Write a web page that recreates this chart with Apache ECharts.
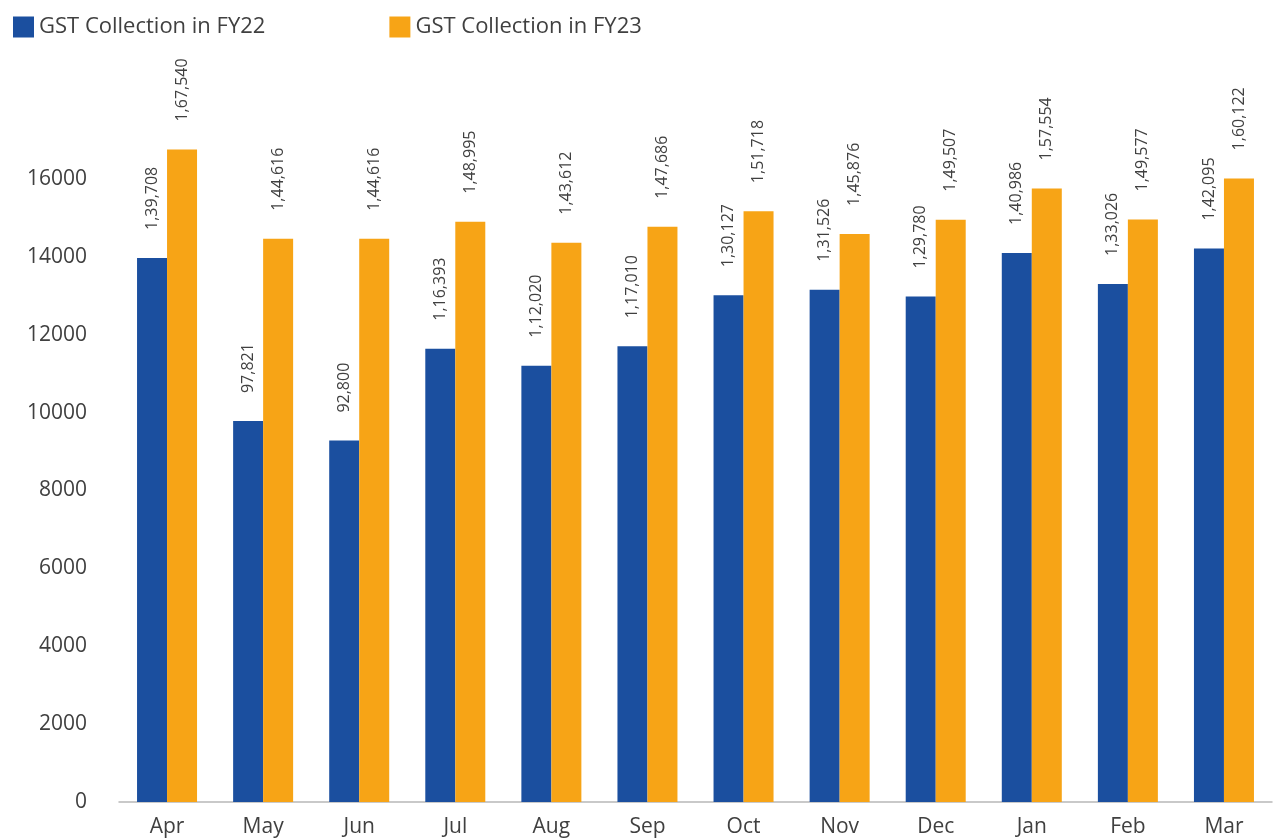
<!DOCTYPE html>
<html>
<head>
<meta charset="utf-8">
<script src="https://cdn.jsdelivr.net/npm/echarts@6/dist/echarts.min.js"></script>
<style>
  html, body { margin: 0; padding: 0; background: #fff; }
  #chart { width: 1273px; height: 838px; }
</style>
</head>
<body>
<div id="chart"></div>
<script>
// GST collection (Rs crore), month-wise
const months = ['Apr', 'May', 'Jun', 'Jul', 'Aug', 'Sep', 'Oct', 'Nov', 'Dec', 'Jan', 'Feb', 'Mar'];
const fy22 = [139708, 97821, 92800, 116393, 112020, 117010, 130127, 131526, 129780, 140986, 133026, 142095];
const fy23 = [167540, 144616, 144616, 148995, 143612, 147686, 151718, 145876, 149507, 157554, 149577, 160122];
const seriesNames = ['GST Collection in FY22', 'GST Collection in FY23'];

// axis shows value / 10, labels show the full figure
const scaled = arr => arr.map(v => ({ value: v / 10, raw: v }));

// Indian digit grouping: 1,39,708
function inr(n) {
  const s = String(n);
  if (s.length <= 3) return s;
  const last3 = s.slice(-3);
  const rest = s.slice(0, -3).replace(/\B(?=(\d{2})+(?!\d))/g, ',');
  return rest + ',' + last3;
}

const font = '"Open Sans", "Noto Sans", sans-serif';
const textColor = '#404040';

const barLabel = {
  show: true,
  position: 'top',
  rotate: 90,
  align: 'left',
  verticalAlign: 'middle',
  distance: 28,
  fontFamily: font,
  fontSize: 16,
  color: textColor,
  formatter: p => inr(p.data.raw)
};

const chart = echarts.init(document.getElementById('chart'));
chart.setOption({
  animation: false,
  textStyle: { fontFamily: font },
  legend: {
    left: 8,
    top: 11,
    itemWidth: 21,
    itemHeight: 21,
    itemGap: 124,
    icon: 'rect',
    textStyle: { fontSize: 22, color: textColor, fontFamily: font },
    data: seriesNames
  },
  grid: { left: 119, right: 1, top: 101, bottom: 35, containLabel: false },
  xAxis: {
    type: 'category',
    data: months,
    axisLine: { lineStyle: { color: '#b8b8b8', width: 1.5 } },
    axisTick: { show: false },
    axisLabel: { color: textColor, fontSize: 21, margin: 15, fontFamily: font }
  },
  yAxis: {
    type: 'value',
    min: 0,
    max: 18000,
    interval: 2000,
    splitLine: { show: false },
    axisLine: { show: false },
    axisTick: { show: false },
    axisLabel: {
      color: textColor,
      fontSize: 21,
      margin: 32,
      fontFamily: font,
      formatter: v => (v > 16000 ? '' : String(v))
    }
  },
  series: [
    {
      name: seriesNames[0],
      type: 'bar',
      barWidth: 30,
      barGap: '0%',
      itemStyle: { color: '#1B4F9F' },
      label: barLabel,
      data: scaled(fy22)
    },
    {
      name: seriesNames[1],
      type: 'bar',
      barWidth: 30,
      barGap: '0%',
      itemStyle: { color: '#F7A416' },
      label: barLabel,
      data: scaled(fy23)
    }
  ]
});
</script>
</body>
</html>
